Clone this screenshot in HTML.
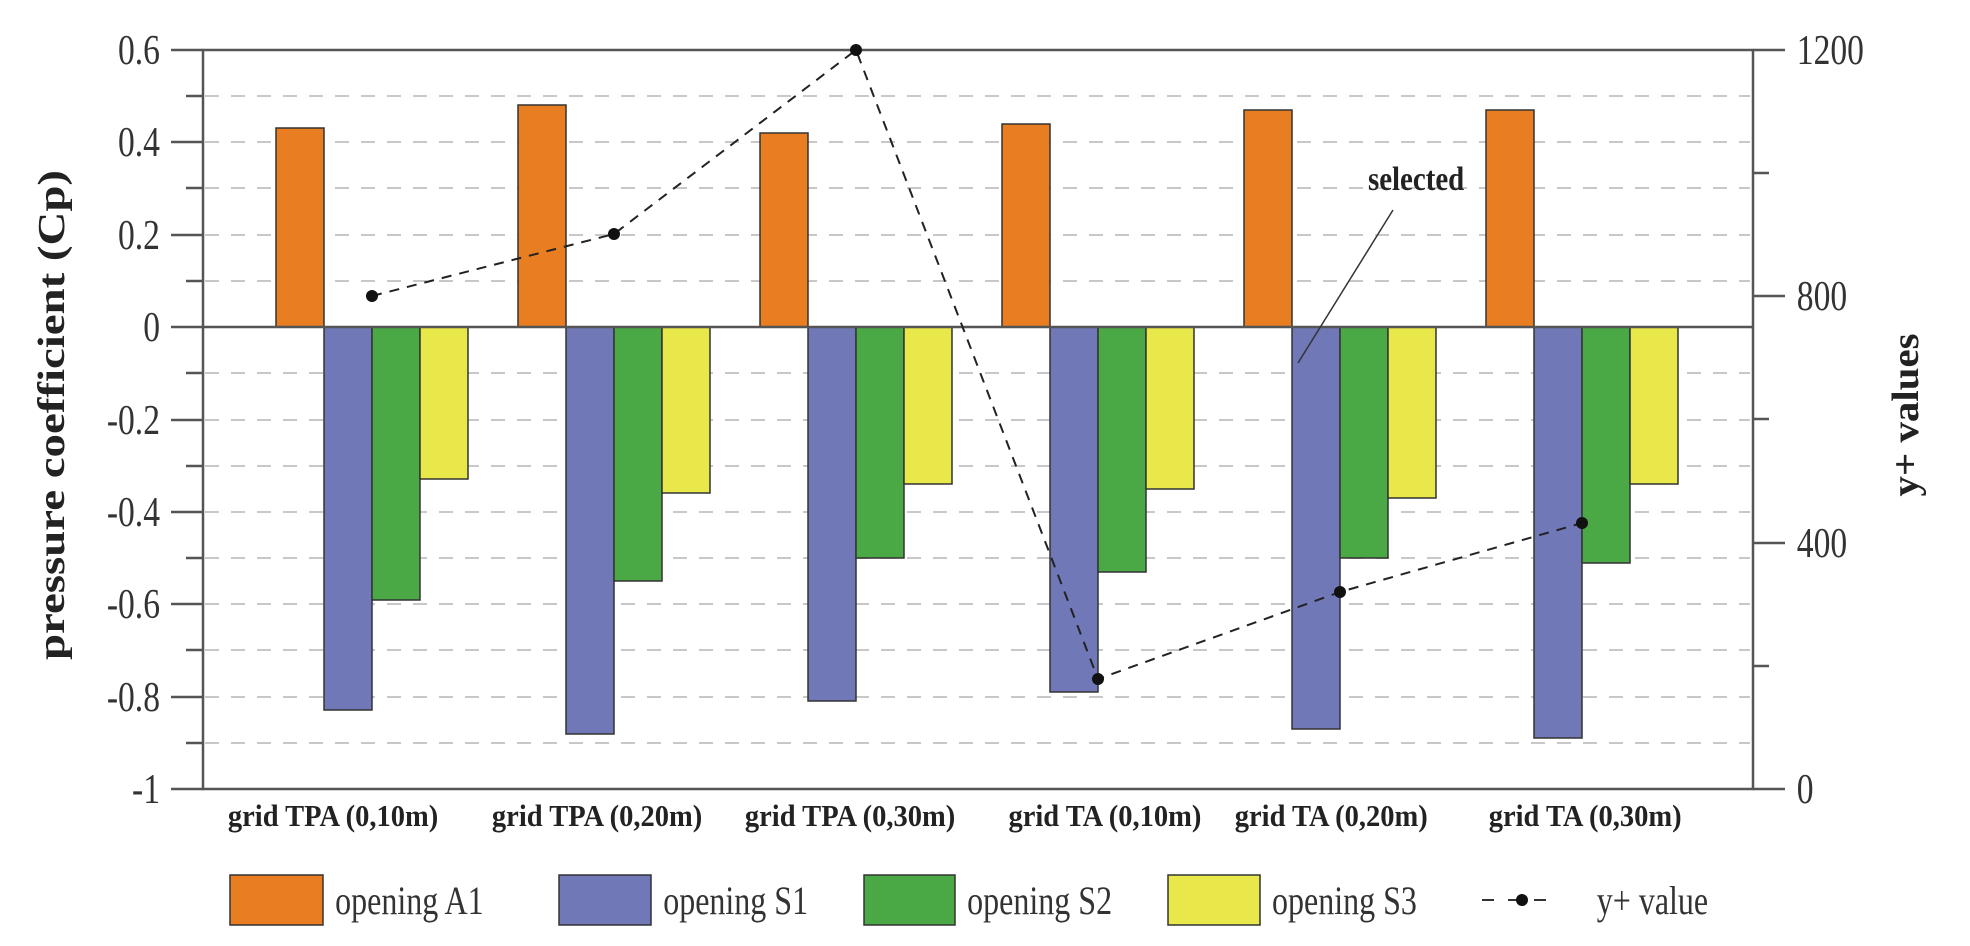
<!DOCTYPE html>
<html><head><meta charset="utf-8"><style>html,body{margin:0;padding:0;background:#fff}svg{display:block}</style></head>
<body>
<svg width="1970" height="946" viewBox="0 0 1970 946" xmlns="http://www.w3.org/2000/svg" font-family="Liberation Serif, serif">
<rect width="1970" height="946" fill="#fff"/>
<!-- gridlines -->
<g stroke="#c8c8c8" stroke-width="2" stroke-dasharray="14,12">
<line x1="205" x2="1750" y1="96" y2="96"/>
<line x1="205" x2="1750" y1="142" y2="142"/>
<line x1="205" x2="1750" y1="188" y2="188"/>
<line x1="205" x2="1750" y1="235" y2="235"/>
<line x1="205" x2="1750" y1="281" y2="281"/>
<line x1="205" x2="1750" y1="373" y2="373"/>
<line x1="205" x2="1750" y1="420" y2="420"/>
<line x1="205" x2="1750" y1="466" y2="466"/>
<line x1="205" x2="1750" y1="512" y2="512"/>
<line x1="205" x2="1750" y1="558" y2="558"/>
<line x1="205" x2="1750" y1="604" y2="604"/>
<line x1="205" x2="1750" y1="650" y2="650"/>
<line x1="205" x2="1750" y1="697" y2="697"/>
<line x1="205" x2="1750" y1="743" y2="743"/>
</g>
<!-- bars -->
<g stroke="#333" stroke-width="1.5">
<rect x="276" y="128" width="48" height="199" fill="#e87d22"/>
<rect x="324" y="327" width="48" height="383" fill="#7078b8"/>
<rect x="372" y="327" width="48" height="273" fill="#4aa845"/>
<rect x="420" y="327" width="48" height="152" fill="#e8e84a"/>

<rect x="518" y="105" width="48" height="222" fill="#e87d22"/>
<rect x="566" y="327" width="48" height="407" fill="#7078b8"/>
<rect x="614" y="327" width="48" height="254" fill="#4aa845"/>
<rect x="662" y="327" width="48" height="166" fill="#e8e84a"/>

<rect x="760" y="133" width="48" height="194" fill="#e87d22"/>
<rect x="808" y="327" width="48" height="374" fill="#7078b8"/>
<rect x="856" y="327" width="48" height="231" fill="#4aa845"/>
<rect x="904" y="327" width="48" height="157" fill="#e8e84a"/>

<rect x="1002" y="124" width="48" height="203" fill="#e87d22"/>
<rect x="1050" y="327" width="48" height="365" fill="#7078b8"/>
<rect x="1098" y="327" width="48" height="245" fill="#4aa845"/>
<rect x="1146" y="327" width="48" height="162" fill="#e8e84a"/>

<rect x="1244" y="110" width="48" height="217" fill="#e87d22"/>
<rect x="1292" y="327" width="48" height="402" fill="#7078b8"/>
<rect x="1340" y="327" width="48" height="231" fill="#4aa845"/>
<rect x="1388" y="327" width="48" height="171" fill="#e8e84a"/>

<rect x="1486" y="110" width="48" height="217" fill="#e87d22"/>
<rect x="1534" y="327" width="48" height="411" fill="#7078b8"/>
<rect x="1582" y="327" width="48" height="236" fill="#4aa845"/>
<rect x="1630" y="327" width="48" height="157" fill="#e8e84a"/>
</g>
<!-- axes -->
<g stroke="#555" stroke-width="2.5" fill="none">
<rect x="203" y="50" width="1550" height="739"/>
<line x1="203" x2="1753" y1="327" y2="327"/>
<line x1="171" x2="203" y1="50" y2="50"/>
<line x1="171" x2="203" y1="142" y2="142"/>
<line x1="171" x2="203" y1="235" y2="235"/>
<line x1="171" x2="203" y1="327" y2="327"/>
<line x1="171" x2="203" y1="420" y2="420"/>
<line x1="171" x2="203" y1="512" y2="512"/>
<line x1="171" x2="203" y1="604" y2="604"/>
<line x1="171" x2="203" y1="697" y2="697"/>
<line x1="171" x2="203" y1="789" y2="789"/>
<line x1="186" x2="203" y1="96" y2="96"/>
<line x1="186" x2="203" y1="188" y2="188"/>
<line x1="186" x2="203" y1="281" y2="281"/>
<line x1="186" x2="203" y1="373" y2="373"/>
<line x1="186" x2="203" y1="466" y2="466"/>
<line x1="186" x2="203" y1="558" y2="558"/>
<line x1="186" x2="203" y1="650" y2="650"/>
<line x1="186" x2="203" y1="743" y2="743"/>
<line x1="1753" x2="1785" y1="50" y2="50"/>
<line x1="1753" x2="1785" y1="296" y2="296"/>
<line x1="1753" x2="1785" y1="543" y2="543"/>
<line x1="1753" x2="1785" y1="789" y2="789"/>
<line x1="1753" x2="1769" y1="173" y2="173"/>
<line x1="1753" x2="1769" y1="419" y2="419"/>
<line x1="1753" x2="1769" y1="666" y2="666"/>
</g>
<!-- y+ series -->
<polyline points="372,296 614,234 856,50 1098,679 1340,592 1582,523" fill="none" stroke="#222" stroke-width="2" stroke-dasharray="10,8"/>
<g fill="#111">
<circle cx="372" cy="296" r="6"/><circle cx="614" cy="234" r="6"/><circle cx="856" cy="50" r="6"/>
<circle cx="1098" cy="679" r="6"/><circle cx="1340" cy="592" r="6"/><circle cx="1582" cy="523" r="6"/>
</g>
<!-- selected -->
<line x1="1393" y1="210" x2="1298" y2="363" stroke="#333" stroke-width="1.5"/>
<g transform="scale(0.85,1)">
<text x="1666" y="190" font-size="34" font-weight="bold" text-anchor="middle" fill="#222">selected</text>
</g>
<!-- tick labels -->
<g transform="scale(0.8,1)" font-size="42" fill="#333">
<g text-anchor="end">
<text x="200" y="64">0.6</text><text x="200" y="156">0.4</text><text x="200" y="249">0.2</text>
<text x="200" y="341">0</text><text x="200" y="434">-0.2</text><text x="200" y="526">-0.4</text>
<text x="200" y="618">-0.6</text><text x="200" y="711">-0.8</text><text x="200" y="803">-1</text>
</g>
<text x="2246" y="64">1200</text><text x="2246" y="310">800</text><text x="2246" y="557">400</text><text x="2246" y="803">0</text>
</g>
<g transform="scale(0.92,1)" font-size="31" font-weight="bold" fill="#222" text-anchor="middle">
<text x="362" y="826">grid TPA (0,10m)</text>
<text x="649" y="826">grid TPA (0,20m)</text>
<text x="924" y="826">grid TPA (0,30m)</text>
<text x="1201" y="826">grid TA (0,10m)</text>
<text x="1447" y="826">grid TA (0,20m)</text>
<text x="1723" y="826">grid TA (0,30m)</text>
</g>
<text transform="translate(64,415) rotate(-90)" font-size="38" font-weight="bold" text-anchor="middle" fill="#222" textLength="490" lengthAdjust="spacingAndGlyphs">pressure coefficient (Cp)</text>
<text transform="translate(1918,415) rotate(-90)" font-size="38" font-weight="bold" text-anchor="middle" fill="#222" textLength="163" lengthAdjust="spacingAndGlyphs">y+ values</text>
<!-- legend -->
<g stroke="#333" stroke-width="1.5">
<rect x="230" y="875" width="93" height="50" fill="#e87d22"/>
<rect x="559" y="875" width="92" height="50" fill="#7078b8"/>
<rect x="864" y="875" width="91" height="50" fill="#4aa845"/>
<rect x="1168" y="875" width="92" height="50" fill="#e8e84a"/>
</g>
<line x1="1482" x2="1560" y1="900" y2="900" stroke="#333" stroke-width="2" stroke-dasharray="12,14"/>
<circle cx="1522" cy="900" r="6" fill="#111"/>
<g transform="scale(0.8,1)" font-size="40" fill="#333">
<text x="419" y="914">opening A1</text>
<text x="829" y="914">opening S1</text>
<text x="1209" y="914">opening S2</text>
<text x="1590" y="914">opening S3</text>
<text x="1996" y="914">y+ value</text>
</g>
</svg>
</body></html>
